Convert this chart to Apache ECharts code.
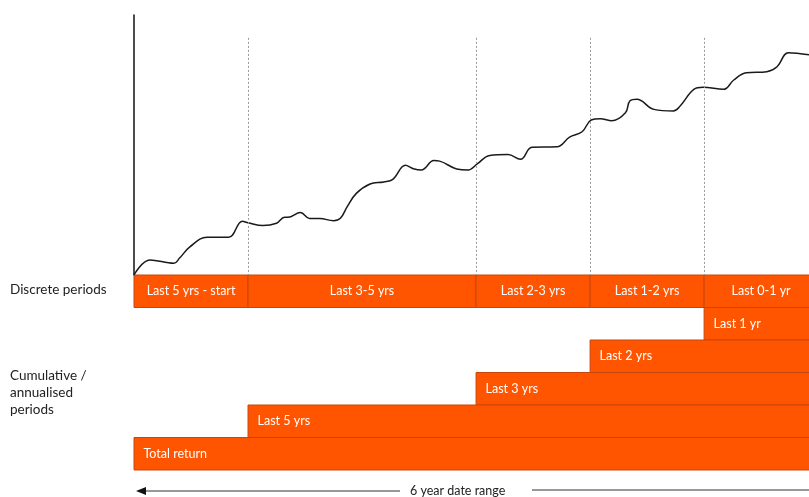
<!DOCTYPE html>
<html>
<head>
    <meta charset="utf-8">
    <title>Discrete and cumulative periods</title>
    <script src="https://cdn.jsdelivr.net/npm/echarts@6/dist/echarts.min.js"></script>
    <style type="text/css">
        html, body { margin: 0; padding: 0; background: #fff; }
        #chart { width: 809px; height: 497px; }
    </style>
</head>
<body>
<div id="chart"></div>
<script>
    // performance line: years since start, index value
    var lineYears = [0, 0.14, 0.35, 0.40, 0.49, 0.64, 0.83, 0.95, 1.00, 1.13, 1.25, 1.32, 1.35, 1.46, 1.54, 1.63,
        1.75, 1.81, 1.87, 1.95, 2.07, 2.19, 2.27, 2.38, 2.45, 2.52, 2.63, 2.68, 2.83, 2.93, 3.01, 3.12, 3.28,
        3.39, 3.49, 3.71, 3.82, 3.93, 4.01, 4.09, 4.19, 4.31, 4.35, 4.41, 4.56, 4.73, 4.79, 4.91, 4.99, 5.17,
        5.26, 5.37, 5.55, 5.64, 5.74, 5.92];
    var lineValues = [0, 5.8, 4.5, 6.5, 10.8, 14.5, 14.5, 20.7, 20.1, 19.0, 19.9, 22.2, 22.2, 24.0, 21.7, 21.7,
        20.9, 21.8, 26.3, 31.4, 35.0, 35.8, 36.8, 42.2, 40.9, 40.4, 44.0, 43.8, 40.8, 40.4, 42.7, 46.0, 46.3,
        44.5, 49.1, 49.3, 53.0, 55.1, 59.6, 60.1, 59.3, 62.4, 67.0, 67.6, 63.7, 63.1, 65.0, 71.4, 72.2, 71.4,
        75.0, 77.8, 78.2, 80.1, 85.5, 84.7];

    // period boundaries (years) shown as dotted lines
    var boundaries = [1, 3, 4, 5];

    // discrete periods
    var discreteLabels = ['Last 5 yrs - start', 'Last 3-5 yrs', 'Last 2-3 yrs', 'Last 1-2 yrs', 'Last 0-1 yr'];
    var discreteStart = [0, 1, 3, 4, 5];
    var discreteEnd = [1, 3, 4, 5, 6];

    // cumulative / annualised periods
    var cumulativeLabels = ['Last 1 yr', 'Last 2 yrs', 'Last 3 yrs', 'Last 5 yrs', 'Total return'];
    var cumulativeStart = [5, 4, 3, 1, 0];
    var rangeEnd = 6;
    var visibleEnd = 5.92; // the picture is cut just before the end of the 6th year

    var rows = ['discrete'].concat(cumulativeLabels);
    var orange = '#ff5500';
    var edge = '#c8460a';
    var font = 'Lato, "Open Sans", sans-serif';

    var lineData = lineYears.map(function (t, i) { return [t, lineValues[i]]; });

    var barData = [];
    for (var i = 0; i < discreteLabels.length; i++) {
        barData.push([discreteStart[i], discreteEnd[i], 0, discreteLabels[i], 'c']);
    }
    for (var j = 0; j < cumulativeLabels.length; j++) {
        barData.push([cumulativeStart[j], rangeEnd, j + 1, cumulativeLabels[j], 'l']);
    }

    var chart = echarts.init(document.getElementById('chart'));

    var option = {
        animation: false,
        backgroundColor: '#fff',
        grid: [
            {left: 134, right: 0, top: 15, height: 260},
            {left: 134, right: 0, top: 275, height: 195}
        ],
        xAxis: [
            {gridIndex: 0, type: 'value', min: 0, max: visibleEnd, show: false},
            {gridIndex: 1, type: 'value', min: 0, max: visibleEnd, show: false}
        ],
        yAxis: [
            {
                gridIndex: 0, type: 'value', min: 0, max: 100,
                axisLine: {show: true, lineStyle: {color: '#111', width: 1.5}},
                axisTick: {show: false}, axisLabel: {show: false}, splitLine: {show: false}
            },
            {gridIndex: 1, type: 'category', data: rows, inverse: true, show: false}
        ],
        series: [
            {
                type: 'line',
                xAxisIndex: 0, yAxisIndex: 0,
                data: lineData,
                smooth: 0.4,
                showSymbol: false,
                lineStyle: {color: '#1a1a1a', width: 1.5},
                markLine: {
                    silent: true,
                    symbol: 'none',
                    label: {show: false},
                    lineStyle: {color: '#9a9a9a', width: 1, type: [2, 2]},
                    data: boundaries.map(function (b) {
                        return [{coord: [b, 91.2]}, {coord: [b, 0]}];
                    })
                }
            },
            {
                type: 'custom',
                xAxisIndex: 1, yAxisIndex: 1,
                data: barData,
                encode: {x: [0, 1], y: 2},
                renderItem: function (params, api) {
                    var s = api.coord([api.value(0), api.value(2)]);
                    var e = api.coord([api.value(1), api.value(2)]);
                    var h = api.size([0, 1])[1];
                    var centred = api.value(4) === 'c';
                    return {
                        type: 'rect',
                        shape: {x: s[0], y: s[1] - h / 2, width: e[0] - s[0], height: h},
                        style: {fill: orange, stroke: edge, lineWidth: 1},
                        textContent: {
                            style: {
                                text: api.value(3),
                                fill: '#fff',
                                font: '12.5px ' + font
                            }
                        },
                        textConfig: {position: centred ? 'inside' : 'insideLeft', distance: 10}
                    };
                }
            }
        ],
        graphic: [
            {
                type: 'text', left: 10, top: 283,
                style: {text: 'Discrete periods', font: '13.5px ' + font, fill: '#222'}
            },
            {
                type: 'text', left: 10, top: 367,
                style: {text: 'Cumulative /\nannualised\nperiods', font: '13.5px ' + font, fill: '#222', lineHeight: 17}
            },
            {
                type: 'line', shape: {x1: 140, y1: 491, x2: 400, y2: 491},
                style: {stroke: '#333', lineWidth: 1}
            },
            {
                type: 'polygon', shape: {points: [[136, 491], [146, 487], [146, 495]]},
                style: {fill: '#111'}
            },
            {
                type: 'text', left: 410, top: 484,
                style: {text: '6 year date range', font: '12.5px ' + font, fill: '#222'}
            },
            {
                type: 'line', shape: {x1: 532, y1: 490, x2: 809, y2: 490},
                style: {stroke: '#333', lineWidth: 1}
            }
        ]
    };

    chart.setOption(option);
</script>
</body>
</html>
